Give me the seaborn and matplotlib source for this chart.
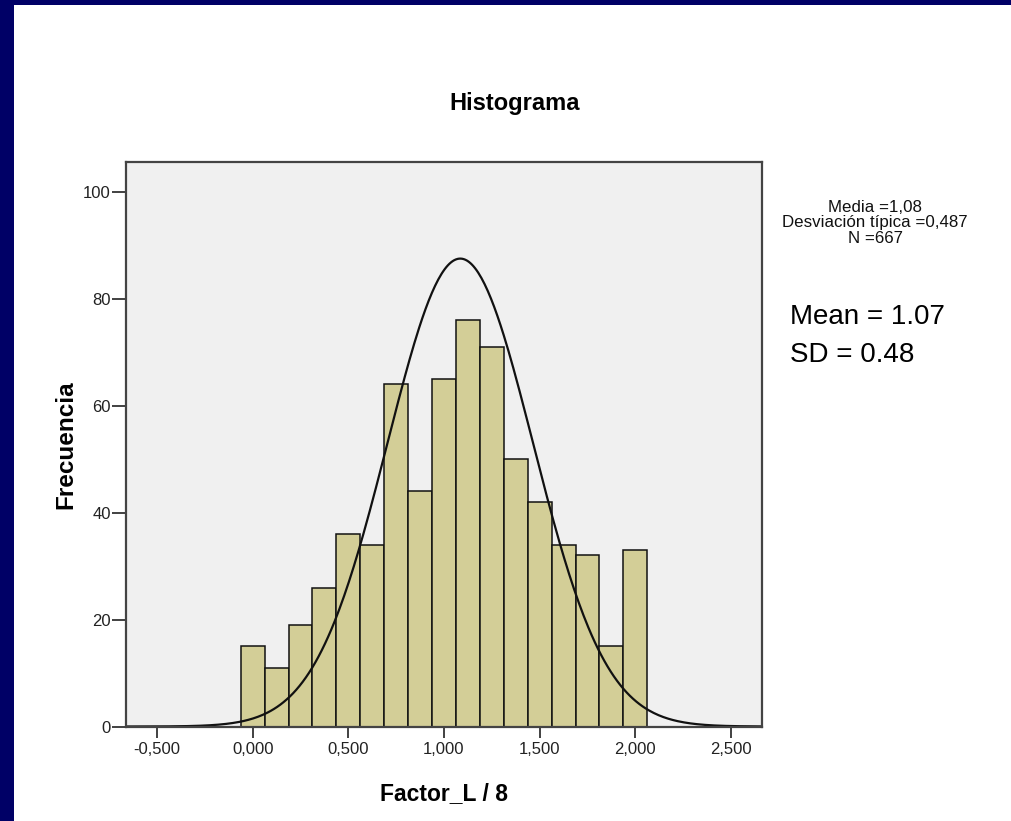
import numpy as np
import pandas as pd
import matplotlib
matplotlib.use("Agg")
import matplotlib.pyplot as plt
import seaborn as sns
from matplotlib.patches import Rectangle

# ---- data ----
factor_values = [0.0, 0.125, 0.25, 0.375, 0.5, 0.625, 0.75, 0.875, 1.0,
                 1.125, 1.25, 1.375, 1.5, 1.625, 1.75, 1.875, 2.0]
frequencies = [15, 11, 19, 26, 36, 34, 64, 44, 65, 76, 71, 50, 42, 34, 32, 15, 33]
bin_width = 0.125
x_ticks = [-0.5, 0.0, 0.5, 1.0, 1.5, 2.0, 2.5]
x_tick_labels = ["-0,500", "0,000", "0,500", "1,000", "1,500", "2,000", "2,500"]
y_ticks = [0, 20, 40, 60, 80, 100]
y_tick_labels = ["0", "20", "40", "60", "80", "100"]
curve_mean = 1.085
curve_sd = 0.38
n_total = 667
stats_text = "Media =1,08\nDesviación típica =0,487\nN =667"
note_text = "Mean = 1.07\nSD = 0.48"

sns.set_theme(style="white")
plt.rcParams['font.family'] = ['Liberation Sans', 'DejaVu Sans']
plt.rcParams['text.color'] = 'black'
plt.rcParams['axes.labelcolor'] = 'black'

W, H = 1011, 821
fig = plt.figure(figsize=(W / 100, H / 100), dpi=100)
fig.patch.set_facecolor("white")

# navy frame (left and top)
fig.patches.append(Rectangle((0, 0), 13.5 / W, 1, transform=fig.transFigure,
                             facecolor="#000066", edgecolor="none", zorder=0))
fig.patches.append(Rectangle((0, 1 - 5 / H), 1, 5 / H, transform=fig.transFigure,
                             facecolor="#000066", edgecolor="none", zorder=0))

ax = fig.add_axes([125.5 / W, 1 - 726.5 / H, (762.3 - 125.5) / W, (726.5 - 162) / H])
ax.set_facecolor("#F0F0F0")

df = pd.DataFrame({"value": factor_values, "freq": frequencies})
lo = factor_values[0] - bin_width / 2
hi = factor_values[-1] + bin_width / 2
sns.histplot(data=df, x="value", weights="freq", binwidth=bin_width, binrange=(lo, hi),
             ax=ax, color="#D3CE97", alpha=1.0, edgecolor="#111111", linewidth=1.1)

xs = np.linspace(-0.665, 2.664, 400)
ys = n_total * bin_width * np.exp(-(xs - curve_mean) ** 2 / (2 * curve_sd ** 2)) / (curve_sd * np.sqrt(2 * np.pi))
sns.lineplot(x=xs, y=ys, ax=ax, color="#111111", linewidth=1.6)

ax.set_xlim(-0.665, 2.664)
ax.set_ylim(0, 105.6)
ax.set_xticks(x_ticks)
ax.set_xticklabels(x_tick_labels, fontsize=12)
ax.set_yticks(y_ticks)
ax.set_yticklabels(y_tick_labels, fontsize=12)
ax.tick_params(axis="x", direction="out", length=8, width=1.3,
               color="#333333", bottom=True, labelcolor="#222222", pad=3)
ax.tick_params(axis="y", direction="out", length=10, width=1.3,
               color="#333333", left=True, labelcolor="#222222", pad=0.5)
for s in ax.spines.values():
    s.set_visible(True)
    s.set_color("#444444")
    s.set_linewidth(1.6)

ax.set_xlabel("Factor_L / 8", fontsize=16.5, fontweight="bold", labelpad=18)
ax.set_ylabel("Frecuencia", fontsize=17.5, fontweight="bold", labelpad=4)

fig.text(515 / W, 1 - 110 / H, "Histograma", fontsize=17, fontweight="bold",
         ha="center", va="baseline")
fig.text(875 / W, 1 - 223 / H, stats_text, fontsize=12.2, ha="center", va="center",
         linespacing=1.05, color="#111111")
fig.text(790 / W, 1 - 335.5 / H, note_text, fontsize=20, ha="left", va="center",
         linespacing=1.6, color="black")

fig.savefig("out.png", dpi=100)
